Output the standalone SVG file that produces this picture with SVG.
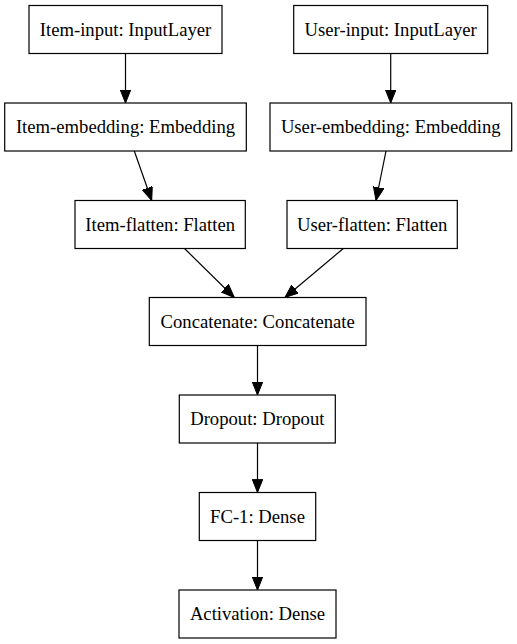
<svg xmlns="http://www.w3.org/2000/svg" width="517" height="644" viewBox="0 0 517 644">
<style>
.box{fill:#ffffff;stroke:#000000;stroke-width:1.2}
.lbl{font-family:"Liberation Serif","Times New Roman",serif;font-size:18.67px;fill:#000000;text-anchor:middle}
.edge{stroke:#000000;stroke-width:1.2;fill:none;marker-end:url(#arr)}
</style>
<defs>
<marker id="arr" markerUnits="userSpaceOnUse" markerWidth="14" markerHeight="11" refX="13.3" refY="5.3" orient="auto">
<path d="M0,0 L13.3,5.3 L0,10.6 Z" fill="#000000" stroke="#000000" stroke-width="1"/>
</marker>
</defs>
<rect width="517" height="644" fill="#ffffff"/>
<g id="edges">
<line class="edge" x1="125.5" y1="53.5" x2="125.5" y2="103"/>
<line class="edge" x1="390.7" y1="53.5" x2="390.7" y2="103"/>
<line class="edge" x1="134.3" y1="151" x2="151.7" y2="200.5"/>
<line class="edge" x1="386" y1="151" x2="376" y2="200.5"/>
<line class="edge" x1="184.5" y1="248.5" x2="234.3" y2="297.5"/>
<line class="edge" x1="343.3" y1="248.5" x2="285" y2="297.5"/>
<line class="edge" x1="257.5" y1="345.5" x2="257.5" y2="395"/>
<line class="edge" x1="257.5" y1="443" x2="257.5" y2="492.5"/>
<line class="edge" x1="257.5" y1="540.5" x2="257.5" y2="590"/>
</g>
<g id="item-input"><rect class="box" x="29" y="5.5" width="193" height="48"/><text class="lbl" x="125.5" y="35.5">Item-input: InputLayer</text></g>
<g id="user-input"><rect class="box" x="293.7" y="5.5" width="194" height="48"/><text class="lbl" x="390.7" y="35.5">User-input: InputLayer</text></g>
<g id="item-embedding"><rect class="box" x="4.7" y="103" width="241.6" height="48"/><text class="lbl" x="125.5" y="133">Item-embedding: Embedding</text></g>
<g id="user-embedding"><rect class="box" x="270" y="103" width="241.7" height="48"/><text class="lbl" x="390.8" y="133">User-embedding: Embedding</text></g>
<g id="item-flatten"><rect class="box" x="75" y="200.5" width="170.3" height="48"/><text class="lbl" x="160.2" y="230.5">Item-flatten: Flatten</text></g>
<g id="user-flatten"><rect class="box" x="287" y="200.5" width="170.3" height="48"/><text class="lbl" x="372.2" y="230.5">User-flatten: Flatten</text></g>
<g id="concatenate"><rect class="box" x="149.3" y="297.5" width="216.7" height="48"/><text class="lbl" x="257.7" y="327.5">Concatenate: Concatenate</text></g>
<g id="dropout"><rect class="box" x="179.3" y="395" width="156" height="48"/><text class="lbl" x="257.3" y="425">Dropout: Dropout</text></g>
<g id="fc-1"><rect class="box" x="199.3" y="492.5" width="116.4" height="48"/><text class="lbl" x="257.5" y="522.5">FC-1: Dense</text></g>
<g id="activation"><rect class="box" x="179" y="590" width="157" height="48"/><text class="lbl" x="257.5" y="620">Activation: Dense</text></g>
</svg>
